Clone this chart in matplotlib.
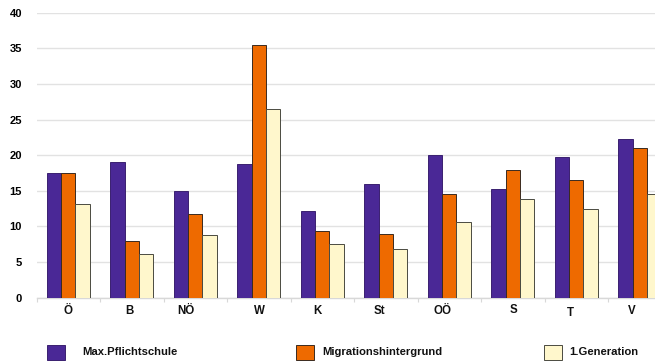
import matplotlib
matplotlib.use("Agg")
import matplotlib.pyplot as plt
import numpy as np
from matplotlib.patches import Rectangle

# Regions (Bundesländer) and share per group, in percent
regions = ["Ö", "B", "NÖ", "W", "K", "St", "OÖ", "S", "T", "V"]
series_names = ["Max.Pflichtschule", "Migrationshintergrund", "1.Generation"]
max_pflichtschule = [17.5, 19.0, 15.0, 18.8, 12.2, 16.0, 20.0, 15.2, 19.8, 22.3]
migrationshintergrund = [17.5, 8.0, 11.8, 35.4, 9.3, 9.0, 14.6, 17.9, 16.5, 21.0]
erste_generation = [13.1, 6.2, 8.75, 26.5, 7.5, 6.9, 10.6, 13.8, 12.5, 14.5]
y_ticks = [0, 5, 10, 15, 20, 25, 30, 35, 40]

colors = ["#4a2896", "#ee6a00", "#fff7cc"]
edges = ["#3a2070", "#3a2a20", "#4a4a40"]

# small hand nudges of the category labels (data units / pixels)
label_dx = [0.0, -0.04, -0.145, 0.01, -0.077, -0.105, -0.102, 0.01, -0.087, -0.126]
label_dy = [0, 0, 0, 0, 0, 0, 0, 1, -2, 0]

plt.rcParams["font.family"] = ["Liberation Sans", "DejaVu Sans"]
plt.rcParams["font.weight"] = "bold"

W, H = 655, 361
fig = plt.figure(figsize=(W / 100, H / 100), dpi=100)
fig.patch.set_facecolor("white")

# Axes extends past the right edge of the figure (last group is clipped)
left_px, right_px, top_px, bottom_px = 36.5, 671.5, 12.7, 297.7
ax = fig.add_axes([left_px / W, 1 - bottom_px / H,
                   (right_px - left_px) / W, (bottom_px - top_px) / H])

x = np.arange(len(regions))
bw = 0.225
all_series = [max_pflichtschule, migrationshintergrund, erste_generation]
for i, (vals, c, ec, name) in enumerate(zip(all_series, colors, edges, series_names)):
    ax.bar(x + (i - 1) * bw, vals, width=bw, color=c, edgecolor=ec,
           linewidth=0.7, label=name, zorder=3)

ax.set_xlim(-0.5, len(regions) - 0.5)
ax.set_ylim(0, 40)
ax.set_yticks(y_ticks)
ax.set_yticklabels([str(v) for v in y_ticks], fontsize=8, fontweight="bold")
ax.yaxis.grid(True, color="#e2e2e2", linewidth=1.0, zorder=0)
ax.tick_params(axis="y", length=0, pad=10.5)

# category labels
ax.set_xticks([])
for xi, lab, dx, dy in zip(x, regions, label_dx, label_dy):
    ax.annotate(lab, xy=(xi + dx, 0), xycoords=("data", "axes fraction"),
                xytext=(0, -13.3 + dy), textcoords="offset pixels",
                ha="center", va="center", fontsize=8.3, fontweight="bold",
                color="#111111", annotation_clip=False)

# small separators between categories
ax.set_xticks(np.arange(-0.5, len(regions), 1), minor=True)
ax.tick_params(axis="x", which="minor", length=3, color="#d8d8d8", width=0.8,
               labelbottom=False)

for s in ["top", "right", "left"]:
    ax.spines[s].set_visible(False)
ax.spines["bottom"].set_color("#d8d8d8")
ax.spines["bottom"].set_linewidth(1.0)

# Legend drawn along the bottom of the figure
legend_x = [47, 296, 544]
legend_tx = [82, 322, 569]
for lx, tx, c, ec, name in zip(legend_x, legend_tx, colors, edges, series_names):
    fig.patches.append(Rectangle((lx / W, 1 - 360 / H), 18 / W, 15 / H,
                                 transform=fig.transFigure, facecolor=c,
                                 edgecolor=ec, linewidth=0.7))
    fig.text(tx / W, 1 - 352 / H, name, fontsize=8.1, fontweight="bold",
             va="center", ha="left", color="#111111")

fig.savefig("out.png", dpi=100, facecolor="white")
